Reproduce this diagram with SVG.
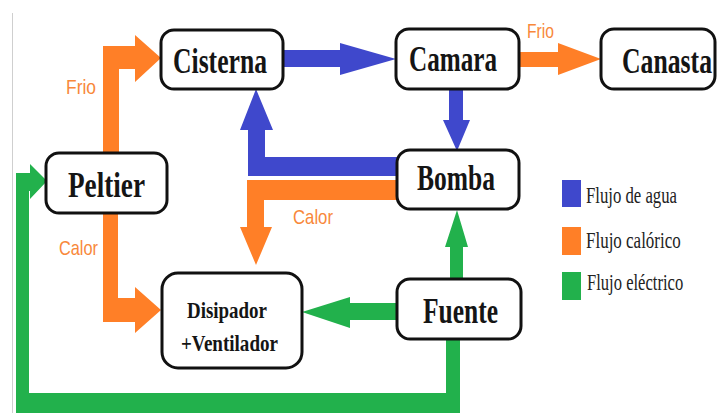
<svg xmlns="http://www.w3.org/2000/svg" width="717" height="413" viewBox="0 0 717 413">
<style>
.box{fill:#fff;stroke:#111;stroke-width:3}
.lbl{font-family:"Liberation Serif","Times New Roman",serif;font-weight:bold;font-size:36px;fill:#151515;text-anchor:middle}
.small{font-size:24px}
.fl{font-family:"Liberation Sans Narrow","Liberation Sans",Arial,sans-serif;font-size:21px;fill:#F8883A}
.leg{font-family:"Liberation Serif","Times New Roman",serif;font-size:23px;fill:#222}
.blue{fill:#3F48CC}
.orange{fill:#FF7F27}
.green{fill:#22B14C}
</style>
<rect width="717" height="413" fill="#fff"/>
<line x1="12.5" y1="13" x2="12.5" y2="413" stroke="#cfcfcf" stroke-width="1"/>
<g id="connectors">
  <polygon class="orange" points="103,153 103,46 135,46 135,35 161,58 135,82 135,69 119,69 119,153"/>
  <polygon class="orange" points="103,213 103,322 135,322 135,333 161,310 135,287 135,298 118,298 118,213"/>
  <polygon class="blue" points="283,50 340,50 340,43 396,59 340,75 340,67 283,67"/>
  <polygon class="orange" points="519,52 558,52 558,43 601,59 558,75 558,67 519,67"/>
  <polygon class="blue" points="449,89 463,89 463,120 470,120 457,151 443,120 449,120"/>
  <polygon class="blue" points="397,157 265,157 265,130 273,130 256,89 240,130 248,130 248,176 397,176"/>
  <polygon class="orange" points="397,180 247,180 247,227 240,227 256,265 272,227 264,227 264,200 397,200"/>
  <polygon class="green" points="397,303 350,303 350,297 302,312 350,328 350,320 397,320"/>
  <polygon class="green" points="450,279 450,247 445,247 457,210 468,247 463,247 463,279"/>
  <polygon class="green" points="446,339 460,339 460,415 16,415 16,173 30,173 30,164 47,181 30,199 30,191 29,191 29,393 446,393"/>
  <text class="fl" x="66" y="94" textLength="30" lengthAdjust="spacingAndGlyphs">Frio</text>
  <text class="fl" x="527" y="38" textLength="27" lengthAdjust="spacingAndGlyphs">Frio</text>
  <text class="fl" x="59" y="255" textLength="39" lengthAdjust="spacingAndGlyphs">Calor</text>
  <text class="fl" x="293" y="224" textLength="40" lengthAdjust="spacingAndGlyphs">Calor</text>
</g>
<g id="cisterna">
  <rect class="box" x="161" y="30" width="122" height="59" rx="13"/>
  <text class="lbl" x="220" y="73" textLength="94" lengthAdjust="spacingAndGlyphs">Cisterna</text>
</g>
<g id="camara">
  <rect class="box" x="396" y="29" width="123" height="60" rx="13"/>
  <text class="lbl" x="453" y="71" textLength="88" lengthAdjust="spacingAndGlyphs">Camara</text>
</g>
<g id="canasta">
  <rect class="box" x="601" y="29" width="114" height="60" rx="13"/>
  <text class="lbl" transform="translate(667,73) scale(0.72,1)" x="0" y="0" textLength="125" lengthAdjust="spacingAndGlyphs">Canasta</text>
</g>
<g id="peltier">
  <rect class="box" x="46" y="153" width="121" height="60" rx="13"/>
  <text class="lbl" x="106.5" y="197" textLength="77" lengthAdjust="spacingAndGlyphs">Peltier</text>
</g>
<g id="bomba">
  <rect class="box" x="397" y="150" width="122" height="59" rx="13"/>
  <text class="lbl" x="456" y="190" textLength="78" lengthAdjust="spacingAndGlyphs">Bomba</text>
</g>
<g id="fuente">
  <rect class="box" x="397" y="279" width="124" height="60" rx="13"/>
  <text class="lbl" x="460.5" y="323" textLength="75" lengthAdjust="spacingAndGlyphs">Fuente</text>
</g>
<g id="disipador">
  <rect class="box" x="162" y="273" width="140" height="95" rx="16" stroke-width="3.5"/>
  <text class="lbl small" x="227" y="318" textLength="80" lengthAdjust="spacingAndGlyphs">Disipador</text>
  <text class="lbl small" x="229.5" y="351" textLength="97" lengthAdjust="spacingAndGlyphs">+Ventilador</text>
</g>
<g id="legend">
  <rect class="blue" x="562" y="180" width="19" height="27"/>
  <text class="leg" transform="translate(586,203) scale(0.74,1)" x="0" y="0" textLength="123" lengthAdjust="spacingAndGlyphs">Flujo de agua</text>
  <rect class="orange" x="562" y="227" width="19" height="28"/>
  <text class="leg" transform="translate(586,248) scale(0.74,1)" x="0" y="0" textLength="128" lengthAdjust="spacingAndGlyphs">Flujo calórico</text>
  <rect class="green" x="562" y="272" width="19" height="28"/>
  <text class="leg" transform="translate(587,290) scale(0.74,1)" x="0" y="0" textLength="130" lengthAdjust="spacingAndGlyphs">Flujo eléctrico</text>
</g>
</svg>
